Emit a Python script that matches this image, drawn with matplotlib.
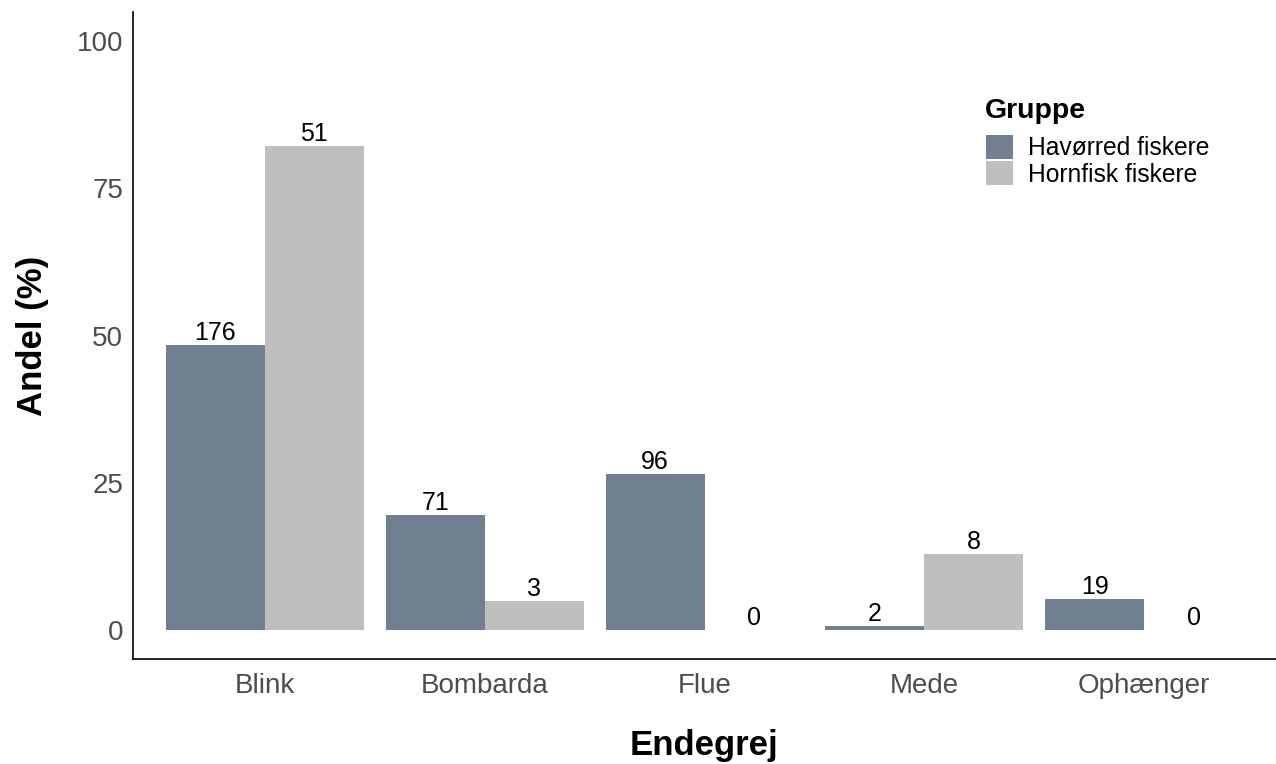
import numpy as np
import matplotlib
matplotlib.use("Agg")
import matplotlib.pyplot as plt

plt.rcParams['font.family'] = ['Liberation Sans', 'DejaVu Sans']

categories = ["Blink", "Bombarda", "Flue", "Mede", "Ophænger"]
groups = ["Havørred fiskere", "Hornfisk fiskere"]
havorred_n = [176, 71, 96, 2, 19]
hornfisk_n = [51, 3, 0, 8, 0]
colors = ["#708090", "#BEBEBE"]

counts = [np.array(havorred_n), np.array(hornfisk_n)]
shares = [c / c.sum() * 100 for c in counts]

fig = plt.figure(figsize=(12.76, 7.64), dpi=100)
ax = fig.add_axes([133 / 1276, 105 / 764, 1 - 133 / 1276, (659 - 12) / 764])

x = np.arange(1, len(categories) + 1)
width = 0.45
for i, (g, c, s, n) in enumerate(zip(groups, colors, shares, counts)):
    pos = x + (i - 0.5) * width
    ax.bar(pos, s, width=width, color=c, label=g)
    for px, py, pn in zip(pos, s, n):
        ax.text(px, py, str(pn), ha='center', va='bottom', fontsize=18, color='black')

ax.set_xlim(0.4, 5.6)
ax.set_ylim(-5, 105)
ax.set_yticks([0, 25, 50, 75, 100])
ax.set_xticks(x)
ax.set_xticklabels(categories)
ax.tick_params(length=0, labelsize=20, labelcolor='#4D4D4D')
ax.tick_params(axis='y', pad=7)
ax.tick_params(axis='x', pad=10)

for side in ['top', 'right']:
    ax.spines[side].set_visible(False)
for side in ['left', 'bottom']:
    ax.spines[side].set_linewidth(1.2)

ax.set_xlabel("Endegrej", fontsize=25, fontweight='bold', labelpad=22)
ax.set_ylabel("Andel (%)", fontsize=25, fontweight='bold', labelpad=20)

# legend: title as separate text so the gap to the keys matches
fig.text(985 / 1276, 1 - 118 / 764, "Gruppe", fontsize=20.5, fontweight='bold',
         ha='left', va='baseline')
leg = ax.legend(loc='upper left', bbox_to_anchor=(986 / 1276, 1 - 135 / 764),
                bbox_transform=fig.transFigure, frameon=False, fontsize=17.7,
                borderpad=0, handlelength=1.1, handleheight=1.1,
                labelspacing=0.05, handletextpad=0.6, borderaxespad=0)

fig.savefig("out.png", dpi=100)
